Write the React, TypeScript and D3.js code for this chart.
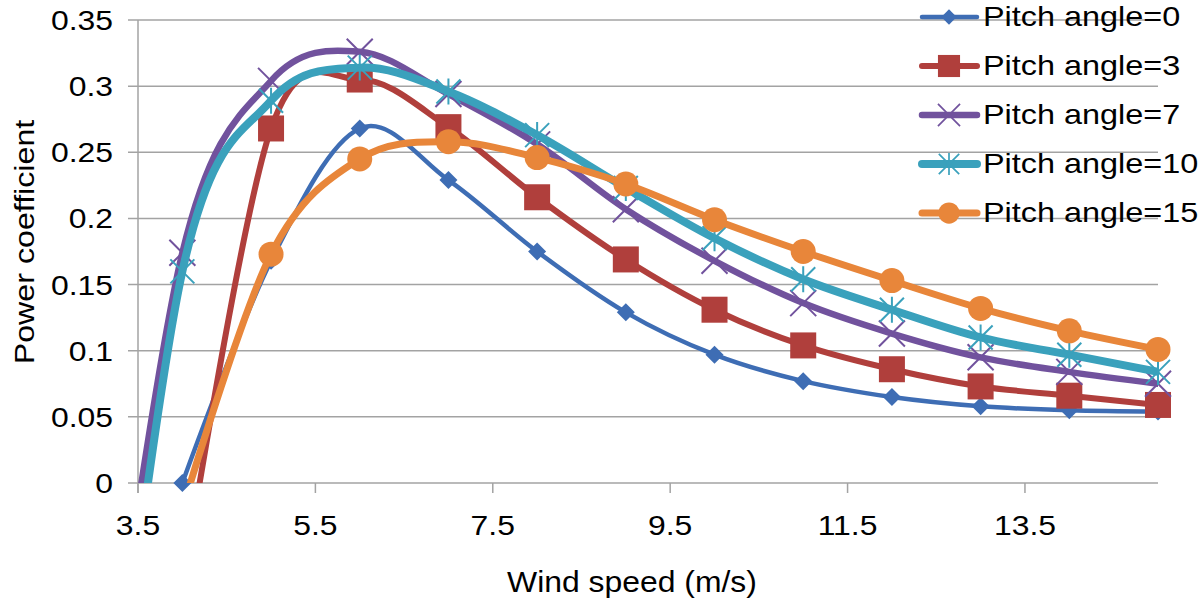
import React, { useRef, useEffect } from 'react';
import { select, scaleLinear, line, curveCardinal, format } from 'd3';

// wind speed (m/s) and power coefficient for each pitch angle (null = no point)
const windSpeed = [3, 4, 5, 6, 7, 8, 9, 10, 11, 12, 13, 14, 15];
const pitch0 = [null, 0, 0.168, 0.268, 0.229, 0.175, 0.129, 0.097, 0.077, 0.065, 0.058, 0.055, 0.054];
const pitch3 = [null, -0.08, 0.268, 0.305, 0.269, 0.216, 0.169, 0.131, 0.104, 0.086, 0.073, 0.066, 0.059];
const pitch7 = [-0.25, 0.174, 0.304, 0.326, 0.294, 0.256, 0.207, 0.168, 0.136, 0.113, 0.095, 0.084, 0.075];
const pitch10 = [-0.32, 0.16, 0.289, 0.314, 0.296, 0.263, 0.223, 0.185, 0.154, 0.131, 0.11, 0.097, 0.084];
const pitch15 = [null, -0.02, 0.173, 0.245, 0.258, 0.246, 0.226, 0.199, 0.175, 0.153, 0.132, 0.115, 0.101];

const seriesNames = ['Pitch angle=0', 'Pitch angle=3', 'Pitch angle=7', 'Pitch angle=10', 'Pitch angle=15'];
const yTicks = [0, 0.05, 0.1, 0.15, 0.2, 0.25, 0.3, 0.35];
const xTicks = [3.5, 5.5, 7.5, 9.5, 11.5, 13.5];

const series = [
  { name: seriesNames[0], values: pitch0, color: '#3E6DB4', width: 4.5, marker: 'diamond' },
  { name: seriesNames[1], values: pitch3, color: '#B03F3C', width: 6, marker: 'square' },
  { name: seriesNames[2], values: pitch7, color: '#71529D', width: 6.5, marker: 'x' },
  { name: seriesNames[3], values: pitch10, color: '#3AA1BC', width: 8, marker: 'star' },
  { name: seriesNames[4], values: pitch15, color: '#E8863A', width: 7, marker: 'circle' },
];

const FONT = '"Liberation Sans", Arial, Helvetica, sans-serif';
const GRID = '#a3a3a3';

function drawMarker(g: any, type: string, color: string, cx: number, cy: number, s: number) {
  const m = g.append('g').attr('transform', `translate(${cx},${cy}) scale(${s})`);
  if (type === 'diamond') {
    m.append('path').attr('d', 'M0,-9L9,0L0,9L-9,0Z').attr('fill', color);
  } else if (type === 'square') {
    m.append('rect').attr('x', -13).attr('y', -13).attr('width', 26).attr('height', 26).attr('fill', color);
  } else if (type === 'circle') {
    m.append('circle').attr('r', 12.5).attr('fill', color);
  } else {
    const a = type === 'x' ? 13 : 12;
    m.append('path')
      .attr('d', `M${-a},${-a}L${a},${a}M${-a},${a}L${a},${-a}` + (type === 'star' ? 'M0,-13L0,13' : ''))
      .attr('stroke', color)
      .attr('stroke-width', 2)
      .attr('fill', 'none');
  }
}

function App() {
  const svgRef: any = useRef();

  useEffect(() => {
    const svg = select(svgRef.current);
    svg.selectAll('*').remove();

    const left = 138;
    const right = 1158;
    const top = 20;
    const bottom = 483;

    const x: any = scaleLinear().domain([3.5, 15]).range([left, right]);
    const y: any = scaleLinear().domain([0, 0.35]).range([bottom, top]);

    svg.append('defs').append('clipPath').attr('id', 'plot-clip')
      .append('rect').attr('x', left).attr('y', top).attr('width', right - left).attr('height', bottom - top);

    // horizontal gridlines + y labels
    const yFmt = format('.2~f');
    yTicks.forEach((t) => {
      svg.append('line')
        .attr('x1', left - 10).attr('x2', right)
        .attr('y1', y(t)).attr('y2', y(t))
        .attr('stroke', GRID).attr('stroke-width', 1.5);
      svg.append('text')
        .attr('transform', `translate(113,${y(t) + 10}) scale(1.14,1)`)
        .attr('text-anchor', 'end')
        .attr('font-family', FONT).attr('font-size', 28)
        .text(yFmt(t));
    });

    // y axis line
    svg.append('line')
      .attr('x1', left).attr('x2', left).attr('y1', top).attr('y2', bottom + 10)
      .attr('stroke', GRID).attr('stroke-width', 1.5);

    // x ticks + labels
    const xFmt = format('.1f');
    xTicks.forEach((t) => {
      svg.append('line')
        .attr('x1', x(t)).attr('x2', x(t)).attr('y1', bottom).attr('y2', bottom + 10)
        .attr('stroke', GRID).attr('stroke-width', 1.5);
      svg.append('text')
        .attr('transform', `translate(${x(t)},535) scale(1.14,1)`)
        .attr('text-anchor', 'middle')
        .attr('font-family', FONT).attr('font-size', 28)
        .text(xFmt(t));
    });

    // axis titles
    svg.append('text')
      .attr('transform', 'translate(632,592) scale(1.1,1)')
      .attr('text-anchor', 'middle')
      .attr('font-family', FONT).attr('font-size', 29)
      .text('Wind speed (m/s)');
    svg.append('text')
      .attr('transform', 'translate(34,242) rotate(-90) scale(1.15,1)')
      .attr('text-anchor', 'middle')
      .attr('font-family', FONT).attr('font-size', 28)
      .text('Power coefficient');

    const pathGen = line<any>()
      .defined((d: any) => d[1] != null)
      .x((d: any) => x(d[0]))
      .y((d: any) => y(d[1]))
      .curve(curveCardinal);

    series.forEach((s) => {
      const pts = windSpeed.map((w, i) => [w, s.values[i]]);
      const g = svg.append('g');
      g.append('path')
        .attr('d', pathGen(pts))
        .attr('clip-path', 'url(#plot-clip)')
        .attr('fill', 'none')
        .attr('stroke', s.color)
        .attr('stroke-width', s.width)
        .attr('stroke-linejoin', 'round')
        .attr('stroke-linecap', 'round');
      pts
        .filter((p: any) => p[1] != null && p[1] >= 0 && p[0] >= 3.5)
        .forEach((p: any) => drawMarker(g, s.marker, s.color, x(p[0]), y(p[1]), 1));
    });

    // legend
    const baselines = [26, 75, 124, 173, 222];
    series.forEach((s, i) => {
      const by = baselines[i];
      const ly = by - 9;
      svg.append('line')
        .attr('x1', 922).attr('x2', 977).attr('y1', ly).attr('y2', ly)
        .attr('stroke', s.color).attr('stroke-width', s.width)
        .attr('stroke-linecap', 'round');
      drawMarker(svg, s.marker, s.color, 949, ly, 0.85);
      svg.append('text')
        .attr('transform', `translate(983,${by}) scale(1.2,1)`)
        .attr('font-family', FONT).attr('font-size', 27)
        .text(s.name);
    });
  }, []);

  return (
    <div>
      <svg
        ref={svgRef}
        width={1200}
        height={600}
        style={{ position: 'absolute', left: 0, top: 0, background: '#fff' }}
      />
    </div>
  );
}

export default App;
